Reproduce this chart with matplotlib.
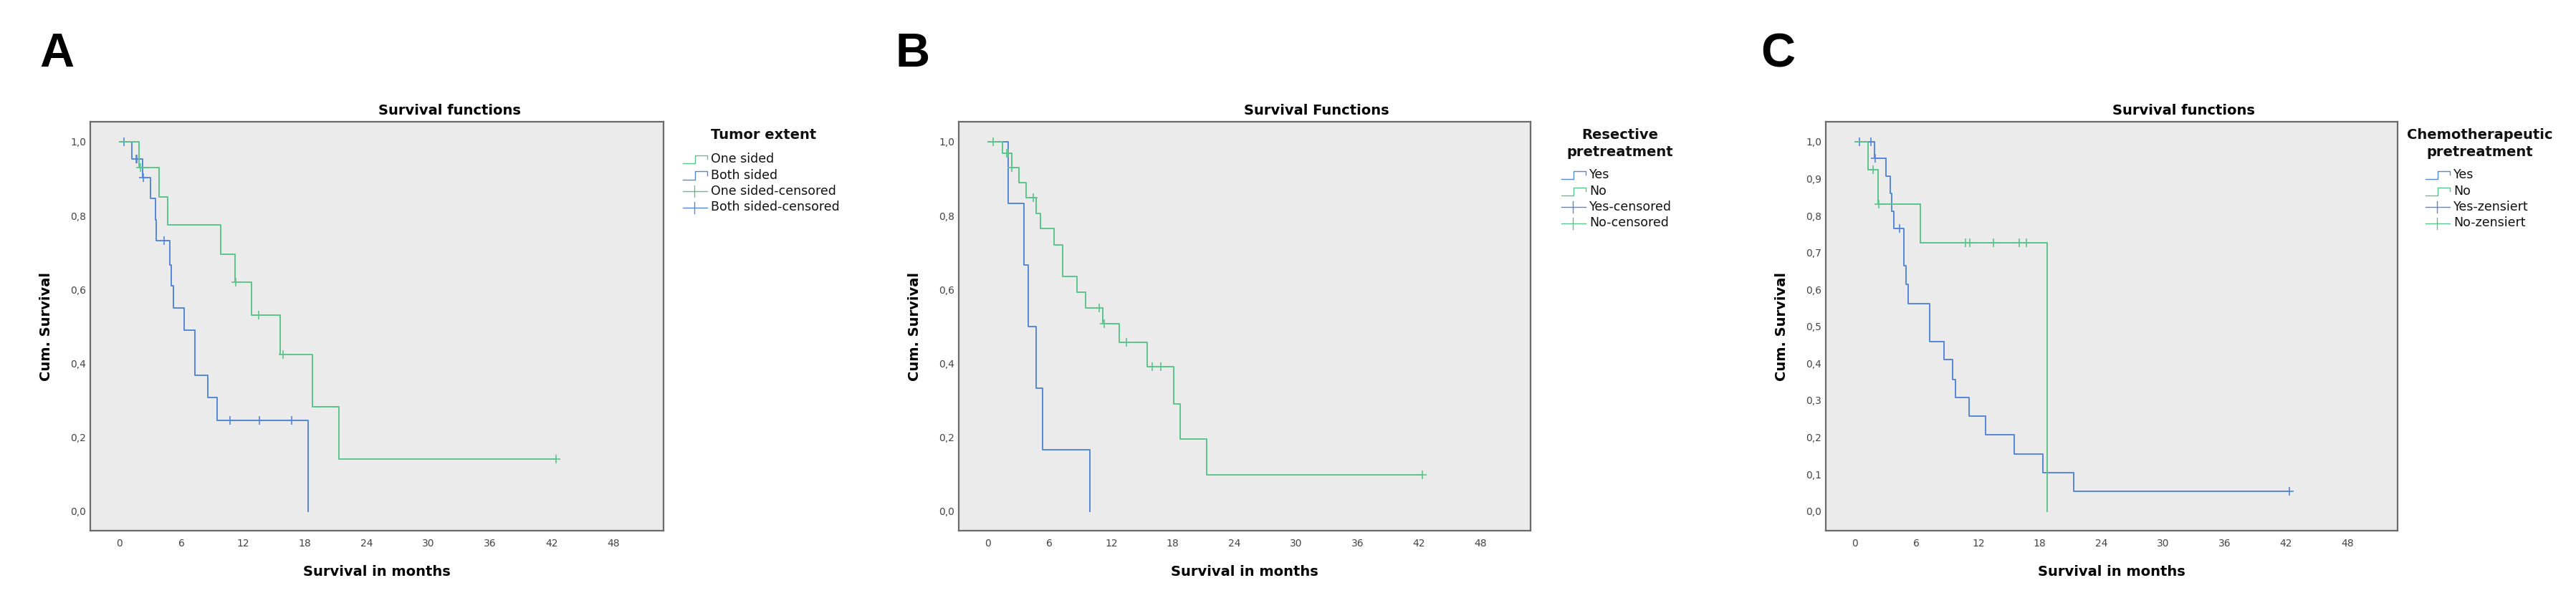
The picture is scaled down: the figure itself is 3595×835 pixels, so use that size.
import matplotlib
matplotlib.use('Agg')
import matplotlib.pyplot as plt
from matplotlib.lines import Line2D
from matplotlib.ticker import FuncFormatter

# ==================== DATA ====================
# Panel A - tumor extent
a_one_t = [0, 1.9, 3.85, 4.7, 9.8, 11.2, 12.85, 15.6, 18.7, 21.3, 42.4]
a_one_s = [1.0, 0.929, 0.851, 0.774, 0.696, 0.619, 0.530, 0.424, 0.283, 0.141, 0.141]
a_one_ct = [2.0, 11.3, 13.5, 15.9, 42.4]
a_one_cs = [0.929, 0.619, 0.530, 0.424, 0.141]

a_both_t = [0, 1.17, 2.26, 3.02, 3.5, 3.55, 4.86, 5.05, 5.25, 6.3, 7.3, 8.6, 9.5, 18.3]
a_both_s = [1.0, 0.954, 0.902, 0.846, 0.788, 0.733, 0.667, 0.610, 0.550, 0.490, 0.367, 0.307, 0.245, 0.0]
a_both_ct = [0.4, 1.6, 1.7, 2.3, 4.35, 10.7, 13.6, 16.7]
a_both_cs = [1.0, 0.954, 0.954, 0.902, 0.733, 0.245, 0.245, 0.245]

# Panel B - resective pretreatment
b_yes_t = [0, 2.0, 3.5, 3.9, 4.7, 5.3, 9.9]
b_yes_s = [1.0, 0.833, 0.667, 0.500, 0.333, 0.167, 0.0]
b_yes_ct = []
b_yes_cs = []

b_no_t = [0, 1.4, 2.3, 3.0, 3.7, 4.7, 5.1, 6.4, 7.3, 8.7, 9.5, 11.2, 12.8, 15.5, 18.1, 18.7, 21.3, 42.3]
b_no_s = [1.0, 0.968, 0.930, 0.890, 0.848, 0.805, 0.765, 0.720, 0.636, 0.593, 0.550, 0.507,
          0.456, 0.390, 0.290, 0.195, 0.098, 0.098]
b_no_ct = [0.5, 1.8, 2.0, 2.35, 4.4, 10.8, 11.3, 13.5, 16.0, 16.8, 42.3]
b_no_cs = [1.0, 0.968, 0.968, 0.930, 0.848, 0.550, 0.507, 0.456, 0.390, 0.390, 0.098]

# Panel C - chemotherapeutic pretreatment
c_yes_t = [0, 1.88, 3.04, 3.45, 3.55, 3.8, 4.75, 5.0, 5.2, 7.3, 8.65, 9.5, 9.8, 11.1, 12.75,
           15.5, 18.3, 21.3, 42.3]
c_yes_s = [1.0, 0.955, 0.907, 0.860, 0.812, 0.765, 0.664, 0.614, 0.562, 0.459, 0.410, 0.357,
           0.307, 0.257, 0.206, 0.155, 0.105, 0.053, 0.053]
c_yes_ct = [0.4, 1.55, 1.95, 4.35, 42.3]
c_yes_cs = [1.0, 1.0, 0.955, 0.765, 0.053]

c_no_t = [0, 1.25, 2.28, 6.34, 18.75]
c_no_s = [1.0, 0.925, 0.832, 0.727, 0.0]
c_no_ct = [1.75, 2.3, 10.75, 11.2, 13.5, 16.0, 16.7]
c_no_cs = [0.925, 0.832, 0.727, 0.727, 0.727, 0.727, 0.727]

x_ticks = [0, 6, 12, 18, 24, 30, 36, 42, 48]
y_ticks_ab = [0.0, 0.2, 0.4, 0.6, 0.8, 1.0]
y_ticks_c = [0.0, 0.1, 0.2, 0.3, 0.4, 0.5, 0.6, 0.7, 0.8, 0.9, 1.0]

# ==================== STYLE ====================
W, H = 3595, 835
GREEN = '#5cc48a'
BLUE = '#5587d8'
BG = '#ebebeb'
FRAME = '#6a6a6a'
plt.rcParams['font.family'] = ['DejaVu Sans']

fig = plt.figure(figsize=(W / 100, H / 100), dpi=100)
fig.patch.set_facecolor('white')


def fx(x):
    return x / W


def fy(y):
    return 1 - y / H


def make_axes(left, right, top=170, bottom=741):
    ax = fig.add_axes([fx(left), fy(bottom), (right - left) / W, (bottom - top) / H])
    ax.set_facecolor(BG)
    for sp in ax.spines.values():
        sp.set_color(FRAME)
        sp.set_linewidth(1.6)
    ax.set_xlim(-2.85, 52.85)
    ax.set_ylim(-0.053, 1.054)
    ax.set_xticks(x_ticks)
    ax.yaxis.set_major_formatter(FuncFormatter(lambda v, p: f'{v:.1f}'.replace('.', ',')))
    ax.tick_params(axis='both', length=0, labelsize=10, labelcolor='#444444')
    ax.tick_params(axis='y', pad=4)
    ax.tick_params(axis='x', pad=8)
    ax.set_xlabel('Survival in months', fontsize=14, fontweight='bold', va='center')
    ax.xaxis.set_label_coords(0.5, -0.1)
    ax.set_ylabel('Cum. Survival', fontsize=14, fontweight='bold', va='center')
    ax.yaxis.set_label_coords(-62 / (right - left), 0.5)
    return ax


def km(ax, t, s, ct, cs, color):
    ax.step(t, s, where='post', color=color, lw=1.4)
    if ct:
        ax.plot(ct, cs, ls='none', marker='+', ms=8, mew=1.2, color=color)


def legend(x_icon, x_text, x_center, title_lines, entries):
    y = 189
    for line in title_lines:
        fig.text(fx(x_center), fy(y), line, ha='center', va='center',
                 fontsize=14, fontweight='bold', color='#111111')
        y += 23
    y = 222 if len(title_lines) == 1 else 244
    for label, color, kind in entries:
        if kind == 'step':
            xs = [0, 17, 17, 34, 34]
            ys = [6, 6, -5, -5, 0]
        else:
            xs = [0, 34]
            ys = [0, 0]
            fig.add_artist(Line2D([fx(x_icon + 16)] * 2, [fy(y - 8), fy(y + 8)],
                                  transform=fig.transFigure, color=color, lw=1.0))
        fig.add_artist(Line2D([fx(x_icon + a) for a in xs], [fy(y + b) for b in ys],
                              transform=fig.transFigure, color=color, lw=1.0))
        fig.text(fx(x_text), fy(y), label, ha='left', va='center', fontsize=12.5,
                 color='#111111')
        y += 22.5


# ==================== PANEL A ====================
ax_a = make_axes(126, 926)
ax_a.set_yticks(y_ticks_ab)
km(ax_a, a_both_t, a_both_s, a_both_ct, a_both_cs, BLUE)
km(ax_a, a_one_t, a_one_s, a_one_ct, a_one_cs, GREEN)
fig.text(fx(627), fy(154), 'Survival functions', ha='center', va='center',
         fontsize=14, fontweight='bold')
legend(953, 992, 1066, ['Tumor extent'],
       [('One sided', GREEN, 'step'), ('Both sided', BLUE, 'step'),
        ('One sided-censored', GREEN, 'cens'), ('Both sided-censored', BLUE, 'cens')])

# ==================== PANEL B ====================
ax_b = make_axes(1338, 2136)
ax_b.set_yticks(y_ticks_ab)
km(ax_b, b_yes_t, b_yes_s, b_yes_ct, b_yes_cs, BLUE)
km(ax_b, b_no_t, b_no_s, b_no_ct, b_no_cs, GREEN)
fig.text(fx(1837), fy(154), 'Survival Functions', ha='center', va='center',
         fontsize=14, fontweight='bold')
legend(2179, 2218, 2261, ['Resective', 'pretreatment'],
       [('Yes', BLUE, 'step'), ('No', GREEN, 'step'),
        ('Yes-censored', BLUE, 'cens'), ('No-censored', GREEN, 'cens')])

# ==================== PANEL C ====================
ax_c = make_axes(2548, 3346)
ax_c.set_yticks(y_ticks_c)
km(ax_c, c_yes_t, c_yes_s, c_yes_ct, c_yes_cs, BLUE)
km(ax_c, c_no_t, c_no_s, c_no_ct, c_no_cs, GREEN)
fig.text(fx(3047), fy(154), 'Survival functions', ha='center', va='center',
         fontsize=14, fontweight='bold')
legend(3385, 3424, 3461, ['Chemotherapeutic', 'pretreatment'],
       [('Yes', BLUE, 'step'), ('No', GREEN, 'step'),
        ('Yes-zensiert', BLUE, 'cens'), ('No-zensiert', GREEN, 'cens')])

# ==================== PANEL LETTERS ====================
for letter, x in [('A', 55), ('B', 1250), ('C', 2457)]:
    fig.text(fx(x), fy(93), letter, ha='left', va='baseline', fontsize=48,
             fontweight='bold', family='Liberation Sans')

fig.savefig('out.png', dpi=100, facecolor='white')
